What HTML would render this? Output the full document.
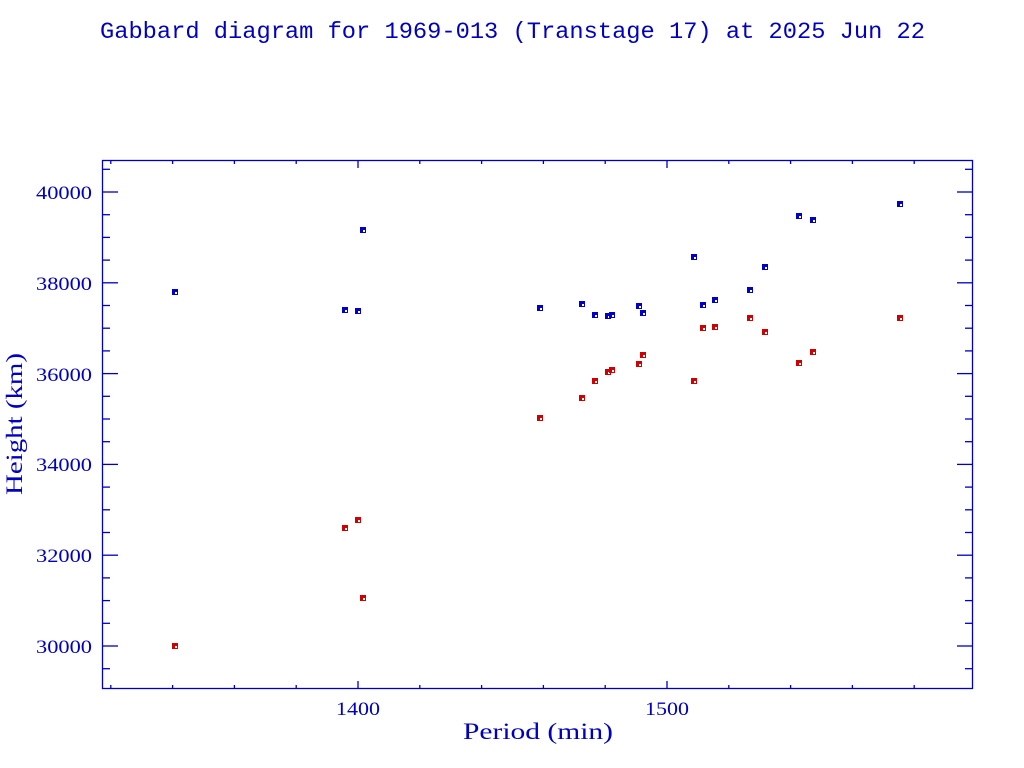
<!DOCTYPE html>
<html><head><meta charset="utf-8"><style>
html,body{margin:0;padding:0;background:#fff;}
svg{display:block;}
text{fill:#0000c0;font-family:"Liberation Serif",serif;}
</style></head><body>
<svg width="1024" height="768" viewBox="0 0 1024 768" xmlns="http://www.w3.org/2000/svg">
<text x="100" y="38" font-size="23" textLength="825" lengthAdjust="spacingAndGlyphs" style="font-family:'Liberation Mono',monospace">Gabbard diagram for 1969-013 (Transtage 17) at 2025 Jun 22</text>
<rect x="102.5" y="160.5" width="870" height="528" fill="none" stroke="#0000c0" stroke-width="1.3"/>
<g stroke="#0000c0" stroke-width="1.3" id="ticks"></g>
<g font-size="19" lengthAdjust="spacingAndGlyphs">
<text x="336" y="715" textLength="44" lengthAdjust="spacingAndGlyphs">1400</text>
<text x="645" y="715" textLength="44" lengthAdjust="spacingAndGlyphs">1500</text>
<text x="36" y="199" textLength="56" lengthAdjust="spacingAndGlyphs">40000</text>
<text x="36" y="290" textLength="56" lengthAdjust="spacingAndGlyphs">38000</text>
<text x="36" y="381" textLength="56" lengthAdjust="spacingAndGlyphs">36000</text>
<text x="36" y="471" textLength="56" lengthAdjust="spacingAndGlyphs">34000</text>
<text x="36" y="562" textLength="56" lengthAdjust="spacingAndGlyphs">32000</text>
<text x="36" y="653" textLength="56" lengthAdjust="spacingAndGlyphs">30000</text>
</g>
<text x="463" y="739" font-size="23" textLength="150" lengthAdjust="spacingAndGlyphs">Period (min)</text>
<text transform="translate(22,495) rotate(-90)" font-size="23" textLength="142" lengthAdjust="spacingAndGlyphs">Height (km)</text>
<g id="pts"></g>
</svg>
<script>
var NS="http://www.w3.org/2000/svg";
var t=document.getElementById("ticks");
function ln(x1,y1,x2,y2){var l=document.createElementNS(NS,"line");l.setAttribute("x1",x1);l.setAttribute("y1",y1);l.setAttribute("x2",x2);l.setAttribute("y2",y2);t.appendChild(l);}
for(var i=-4;i<=9;i++){var x=358+i*61.8;if(x<103||x>972)continue;var L=(i%5==0)?8:4;ln(x,689,x,689-L);ln(x,160,x,160+L);}
for(var v=29500;v<=40500;v+=500){var y=646-(v-30000)*0.0454;if(y<161||y>688)continue;var L=(v%2000==0)?16:8;ln(102,y,102+L,y);ln(973,y,973-L,y);}
var p=document.getElementById("pts");
function m(x,y,c){var r=document.createElementNS(NS,"rect");r.setAttribute("x",x-3);r.setAttribute("y",y-3);r.setAttribute("width",6);r.setAttribute("height",6);r.setAttribute("fill",c);p.appendChild(r);
var w=document.createElementNS(NS,"rect");w.setAttribute("x",x);w.setAttribute("y",y);w.setAttribute("width",2);w.setAttribute("height",2);w.setAttribute("fill","#fff");p.appendChild(w);}
var B=[[175,292],[345,310],[358,311],[363,230],[540,308],[582,304],[595,315],[608,316],[612,315],[639,306],[643,313],[694,257],[703,305],[715,300],[750,290],[765,267],[799,216],[813,220],[900,204]];
var R=[[175,646],[345,528],[358,520],[363,598],[540,418],[582,398],[595,381],[608,372],[612,370],[639,364],[643,355],[694,381],[703,328],[715,327],[750,318],[765,332],[799,363],[813,352],[900,318]];
B.forEach(function(a){m(a[0],a[1],"#0000c8");});
R.forEach(function(a){m(a[0],a[1],"#d00000");});
</script>
</body></html>
